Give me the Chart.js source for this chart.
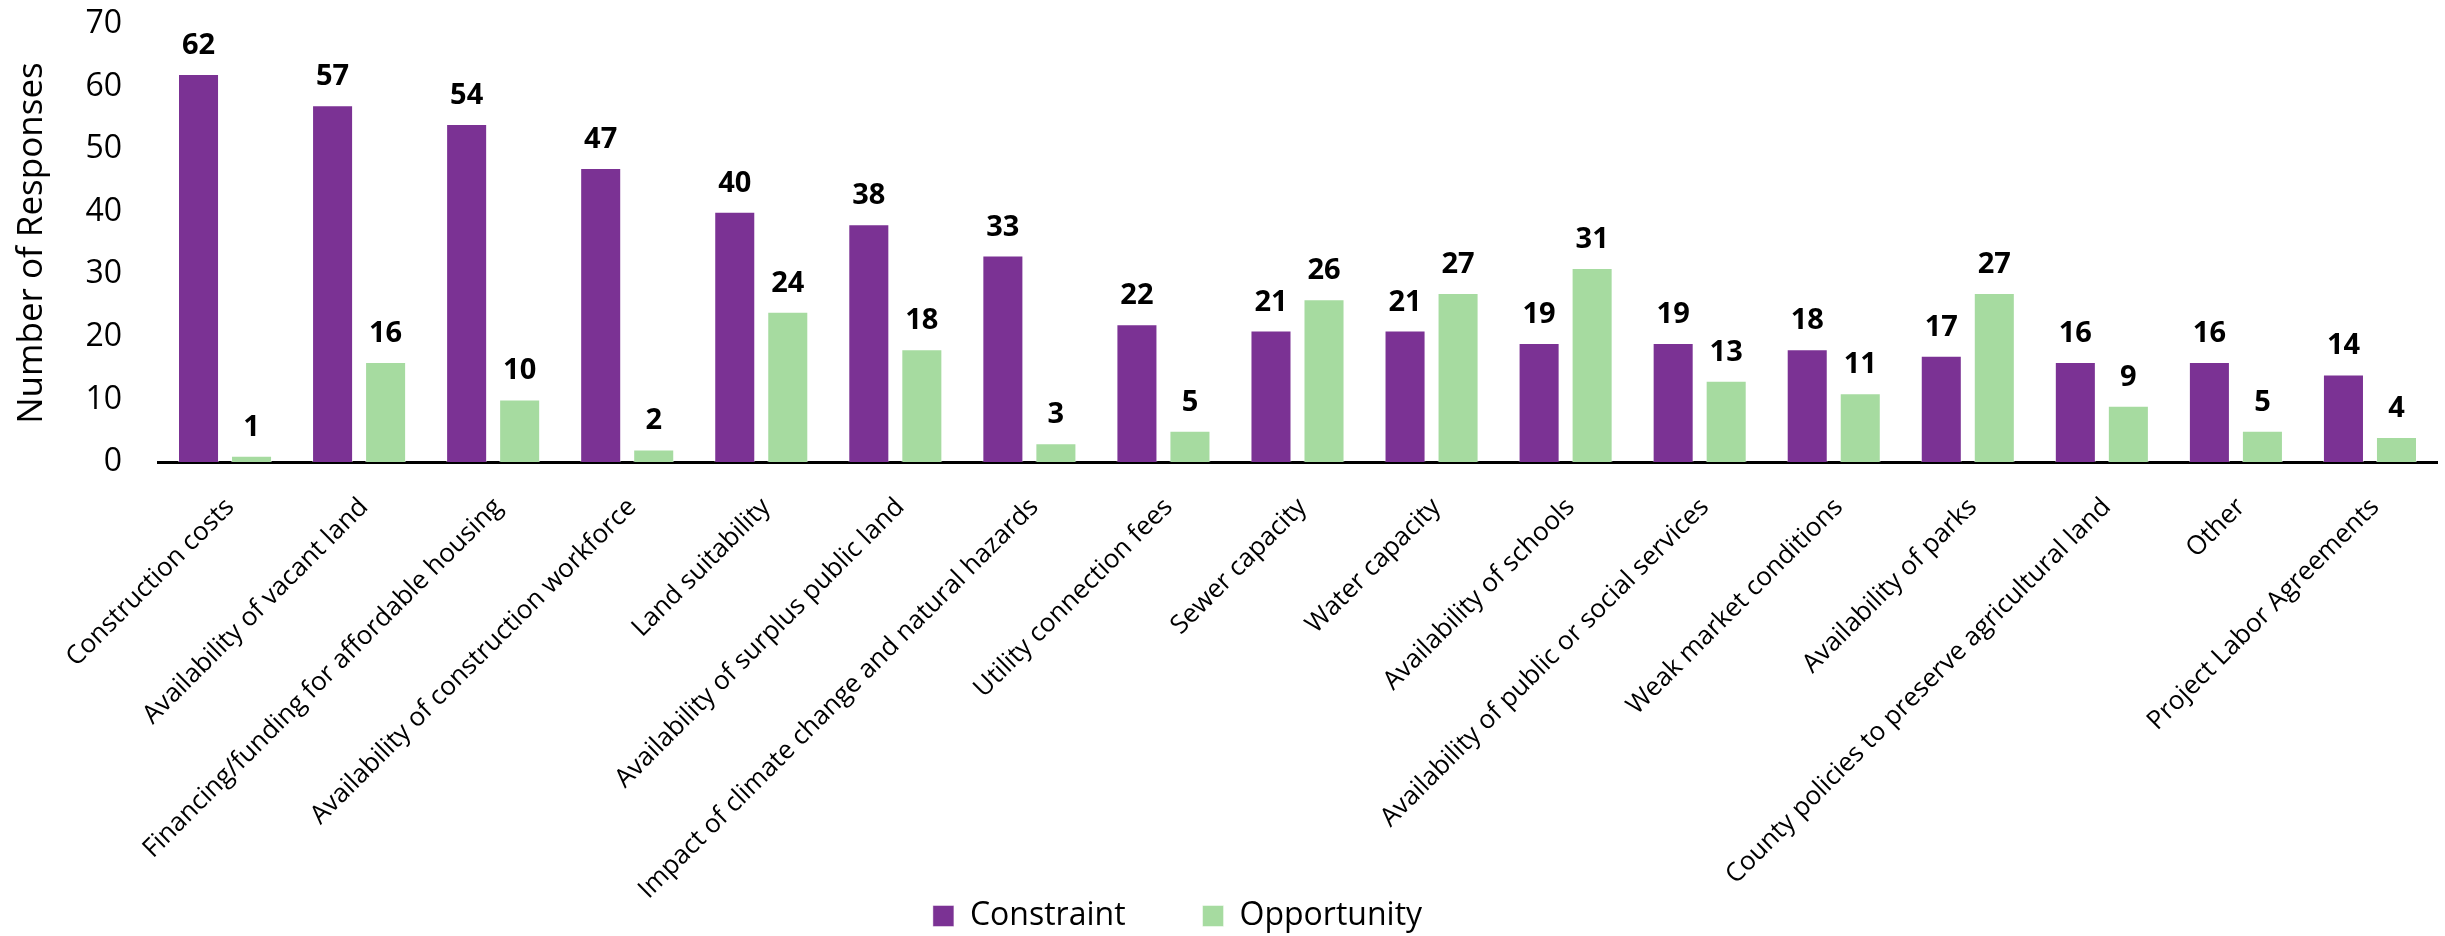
<!DOCTYPE html>
<html>
<head>
<meta charset="utf-8">
<script src="https://cdn.jsdelivr.net/npm/chart.js@4"></script>
<style>
  body { margin: 0; background: #fff; }
  canvas { display: block; }
</style>
</head>
<body>
<canvas id="responsesChart" width="2445" height="936"></canvas>
<script>
const categories = [
  "Construction costs",
  "Availability of vacant land",
  "Financing/funding for affordable housing",
  "Availability of construction workforce",
  "Land suitability",
  "Availability of surplus public land",
  "Impact of climate change and natural hazards",
  "Utility connection fees",
  "Sewer capacity",
  "Water capacity",
  "Availability of schools",
  "Availability of public or social services",
  "Weak market conditions",
  "Availability of parks",
  "County policies to preserve agricultural land",
  "Other",
  "Project Labor Agreements"
];
const constraint = [62, 57, 54, 47, 40, 38, 33, 22, 21, 21, 19, 19, 18, 17, 16, 16, 14];
const opportunity = [1, 16, 10, 2, 24, 18, 3, 5, 26, 27, 31, 13, 11, 27, 9, 5, 4];
const yTicks = [0, 10, 20, 30, 40, 50, 60, 70];

const FONT = "'Open Sans', 'Noto Sans', sans-serif";
Chart.defaults.font.family = FONT;
Chart.defaults.color = '#000';

// numbers above every bar
const barValues = {
  id: 'barValues',
  afterDatasetsDraw(chart) {
    const ctx = chart.ctx;
    ctx.save();
    ctx.font = "bold 29px " + FONT;
    ctx.fillStyle = '#000';
    ctx.textAlign = 'center';
    ctx.textBaseline = 'alphabetic';
    chart.data.datasets.forEach((ds, i) => {
      chart.getDatasetMeta(i).data.forEach((bar, j) => {
        ctx.fillText(ds.data[j], bar.x, bar.y - 20);
      });
    });
    ctx.restore();
  }
};

// nudge the legend left/down, and let the slanted labels run past the axis box
const layoutTweaks = {
  id: 'layoutTweaks',
  afterLayout(chart) {
    const lg = chart.legend;
    lg.left -= 41;
    lg.right -= 41;
    lg.top += 6;
    lg.bottom += 6;
    chart.scales.x.bottom = chart.height;
  }
};

new Chart(document.getElementById('responsesChart'), {
  type: 'bar',
  data: {
    labels: categories,
    datasets: [{
      label: 'Constraint',
      data: constraint,
      backgroundColor: '#7B3294',
      borderColor: 'rgba(255,255,255,0.45)',
      borderWidth: 1,
      barPercentage: 0.774,
      categoryPercentage: 0.791
    }, {
      label: 'Opportunity',
      data: opportunity,
      backgroundColor: '#A6DBA0',
      borderColor: 'rgba(255,255,255,0.45)',
      borderWidth: 1,
      barPercentage: 0.774,
      categoryPercentage: 0.791
    }]
  },
  options: {
    responsive: false,
    animation: false,
    layout: { padding: { top: 24, right: 8, bottom: 0, left: 0 } },
    plugins: {
      tooltip: { enabled: false },
      legend: {
        position: 'bottom',
        labels: {
          boxWidth: 21,
          boxHeight: 21,
          padding: 77,
          font: { size: 32 },
          color: '#000'
        }
      }
    },
    scales: {
      x: {
        grid: { display: false, drawTicks: false },
        border: { display: true, color: '#000', width: 3 },
        ticks: {
          autoSkip: false,
          maxRotation: 45,
          minRotation: 45,
          padding: 30,
          labelOffset: 5,
          font: { size: 26 },
          color: '#000'
        },
        afterFit(scale) {
          scale.height = 355;
          scale.paddingLeft = 0;
          scale.paddingRight = 0;
        }
      },
      y: {
        min: 0,
        max: 70,
        grid: { display: false, drawTicks: false },
        border: { display: false },
        afterBuildTicks(scale) { scale.ticks = yTicks.map(v => ({ value: v })); },
        ticks: {
          padding: 36,
          font: { size: 32 },
          color: '#000'
        },
        title: {
          display: true,
          text: 'Number of Responses',
          font: { size: 35 },
          color: '#000',
          padding: { top: 11, bottom: 0 }
        },
        afterFit(scale) {
          scale.width = 158;
          scale.paddingTop = 0;
          scale.paddingBottom = 0;
        }
      }
    }
  },
  plugins: [barValues, layoutTweaks]
});
</script>
</body>
</html>
